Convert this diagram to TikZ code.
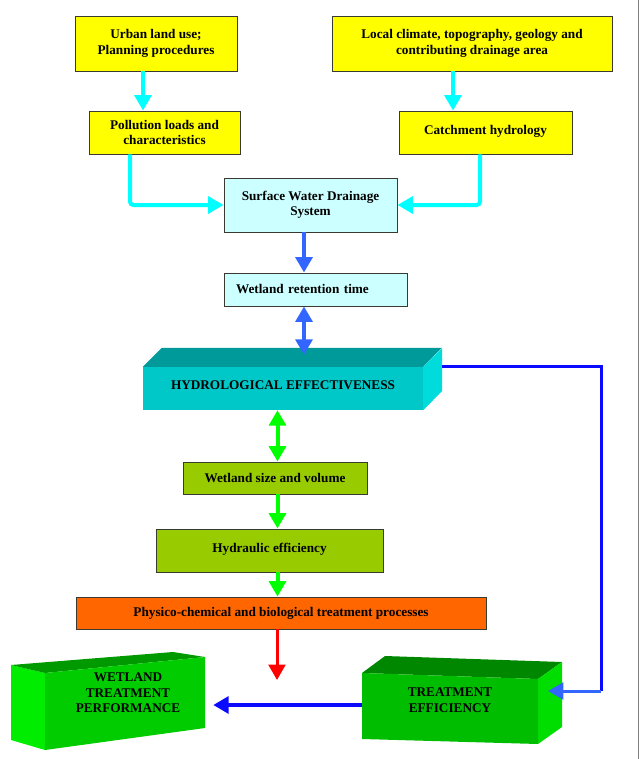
\documentclass[tikz,border=0pt]{standalone}
\usepackage{fontspec}
\setmainfont{Liberation Serif}
\usetikzlibrary{arrows.meta,calc}
\definecolor{yellowbox}{HTML}{FFFF00}
\definecolor{cyanbox}{HTML}{CCFFFF}
\definecolor{olivebox}{HTML}{99CC00}
\definecolor{orangebox}{HTML}{FF6600}
\definecolor{boxline}{HTML}{3A3A30}
\definecolor{arrcyan}{HTML}{00FFFF}
\definecolor{arrblue}{HTML}{3366FF}
\definecolor{arrgreen}{HTML}{00FF00}
\definecolor{arrred}{HTML}{FF0000}
\definecolor{darkblue}{HTML}{0A0AFF}
\definecolor{hydfront}{HTML}{00C8C8}
\definecolor{hydtop}{HTML}{009A9A}
\definecolor{hydside}{HTML}{00DCDC}
\newcommand{\diagfont}{\fontsize{11.3}{13.2}\selectfont\bfseries}

\begin{document}
\begin{tikzpicture}[x=0.03cm,y=-0.03cm]
\tikzset{box/.style = {draw=boxline,line width=0.8pt,align=center,inner sep=0pt,font=\diagfont}}
\tikzset{ybox/.style = {box,fill=yellowbox}}
\tikzset{cbox/.style = {box,fill=cyanbox}}
\tikzset{gbox/.style = {box,fill=olivebox}}
\tikzset{obox/.style = {box,fill=orangebox}}
\tikzset{hbox/.style = {fill=hydfront,align=center,inner sep=0pt,font=\diagfont}}
\tikzset{tbox/.style = {align=center,inner sep=0pt,font=\diagfont}}
\tikzset{tip/.style = {-{Triangle[length=0.46cm,width=0.5cm]}}}
\tikzset{tips/.style = {{Triangle[length=0.46cm,width=0.5cm]}-{Triangle[length=0.46cm,width=0.5cm]}}}
\tikzset{cyanedge/.style = {draw=arrcyan,line width=0.12cm,tip,rounded corners=0.1cm}}
\tikzset{blueedge/.style = {draw=arrblue,line width=0.12cm}}
\tikzset{greenedge/.style = {draw=arrgreen,line width=0.12cm}}
\useasboundingbox (0,0) rectangle (640,759);
\draw[gray,line width=0.6pt] (638.5,0) -- (638.5,759);

% inputs
\node[ybox,minimum width=4.86cm,minimum height=1.65cm] (urban) at (156,43.5) {Urban land use;\\Planning procedures};
\node[ybox,minimum width=8.4cm,minimum height=1.65cm] (climate) at (472,43.5) {Local climate, topography, geology and\\contributing drainage area};
\node[ybox,minimum width=4.53cm,minimum height=1.29cm] (poll) at (164.5,132.5) {Pollution loads and\\characteristics};
\node[ybox,minimum width=5.19cm,minimum height=1.29cm] (catch) at (485.5,132.5) {\raisebox{0.15cm}{Catchment hydrology}};
\node[cbox,minimum width=5.19cm,minimum height=1.62cm] (surf) at (310.5,205) {\raisebox{0.08cm}{\begin{tabular}{@{}c@{}}Surface Water Drainage\\System\end{tabular}}};
\node[cbox,minimum width=5.49cm,minimum height=0.99cm,inner xsep=0.36cm,text width=4.77cm,align=left] (ret) at (315.5,289.5) {Wetland retention time};

% hydrological box
\node[hbox,minimum width=8.4cm,minimum height=1.29cm] (hydro) at (283,388.5) {\raisebox{0.2cm}{HYDROLOGICAL EFFECTIVENESS}};
\fill[hydtop] (hydro.north west) -- ++(19,-19) -- ++(280,0) -- (hydro.north east) -- cycle;
\fill[hydside] (hydro.north east) -- ++(19,-19) -- ++(0,43) -- (hydro.south east) -- cycle;

\node[gbox,minimum width=5.52cm,minimum height=0.96cm] (size) at (275,478) {Wetland size and volume};
\node[gbox,minimum width=6.81cm,minimum height=1.29cm] (hydraulic) at (269.5,550.5) {\raisebox{0.17cm}{Hydraulic efficiency}};
\node[obox,minimum width=12.3cm,minimum height=0.96cm] (proc) at (281,613) {Physico-chemical and biological treatment processes};

% green boxes
\fill[green!93!black] (11,665) -- (45,673) -- (45,750) -- (11,740) -- cycle;
\fill[green!60!black] (11,665) -- (173,652) -- (205,657) -- (45,673) -- cycle;
\fill[green!80!black] (45,673) -- (205,657) -- (205,728) -- (45,750) -- cycle;
\fill[green!53!black] (362,673) -- (385,656) -- (562,662) -- (538,679) -- cycle;
\fill[green!87!black] (538,679) -- (562,662) -- (562,727) -- (538,744) -- cycle;
\fill[green!74!black] (362,673) -- (538,679) -- (538,744) -- (362,739) -- cycle;
\node[tbox,minimum width=5.1cm] (perf) at (128,693) {WETLAND\\TREATMENT\\PERFORMANCE};
\node[tbox,minimum width=5.28cm] (eff) at (450,700) {TREATMENT\\EFFICIENCY};

\coordinate (blueaxis) at (304,0);
\coordinate (greenaxis) at (277.5,0);
\coordinate (fbx) at (601,0);
\coordinate (effside) at (548,691);
\coordinate (redend) at (277,680);

% connectors
\draw[cyanedge] ([xshift=-0.39cm]urban.south) -- ([xshift=-0.39cm]urban.south |- poll.north);
\draw[cyanedge] ([xshift=-0.57cm]climate.south) -- ([xshift=-0.57cm]climate.south |- catch.north);
\draw[cyanedge] ([xshift=-1.035cm]poll.south) |- (surf.west);
\draw[cyanedge] ([xshift=-0.165cm]catch.south) |- (surf.east);
\draw[blueedge,tip] (surf.south -| blueaxis) -- (ret.north -| blueaxis);
\draw[blueedge,tips] (ret.south -| blueaxis) -- ([yshift=0.36cm]hydro.north -| blueaxis);
\draw[greenedge,tips] (hydro.south -| greenaxis) -- (size.north -| greenaxis);
\draw[greenedge,tip] (size.south -| greenaxis) -- (hydraulic.north -| greenaxis);
\draw[greenedge,tip] (hydraulic.south -| greenaxis) -- (proc.north -| greenaxis);
\draw[draw=arrred,line width=0.09cm,tip] (proc.south -| redend) -- (redend);
\draw[draw=darkblue,line width=0.09cm] ($(hydro.north east)+(19,0)$) -| (effside -| fbx);
\draw[draw=arrblue,line width=0.09cm,tip] (effside -| fbx) -- (effside);
\draw[draw=darkblue,line width=0.12cm,tip] ([yshift=-0.15cm]eff.west) -- ([yshift=-0.15cm]eff.west -| perf.east);
\end{tikzpicture}
\end{document}
